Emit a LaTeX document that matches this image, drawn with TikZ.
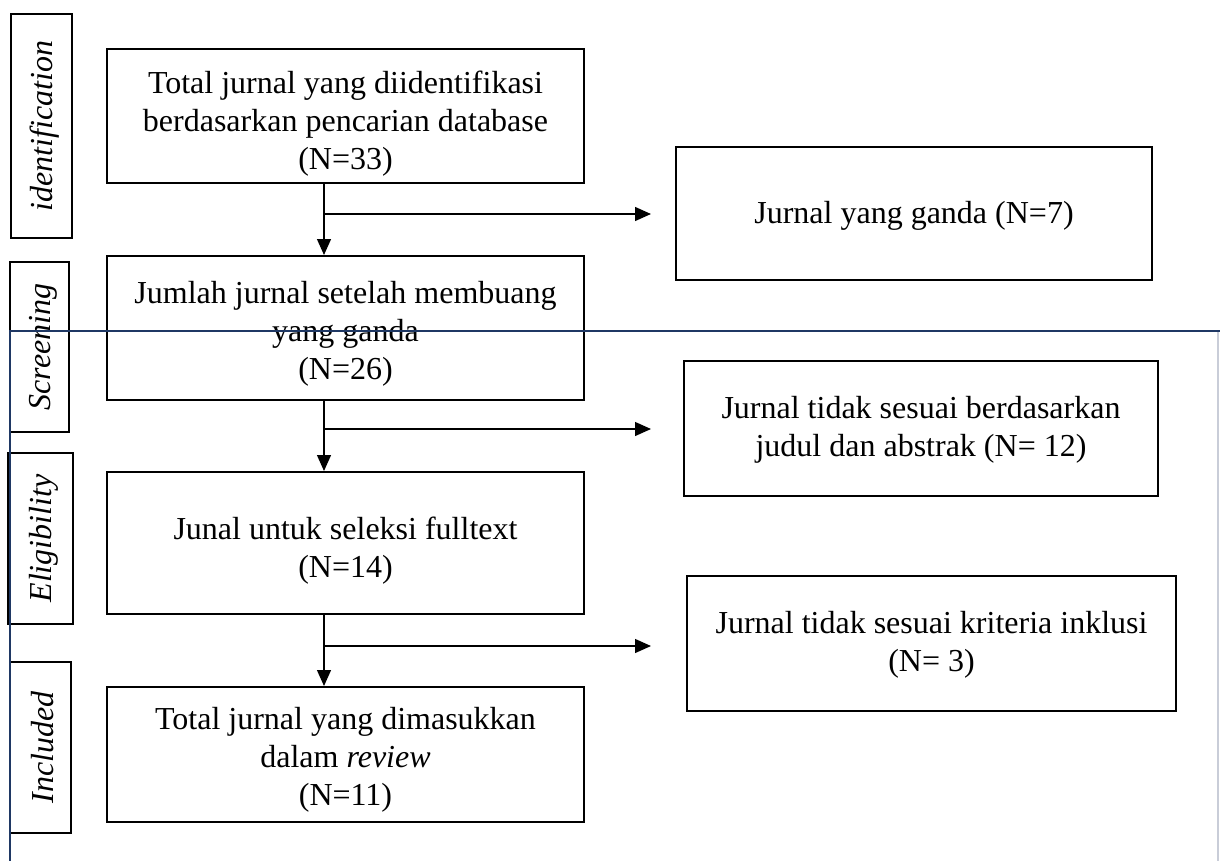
\documentclass[tikz,border=0pt]{standalone}
\usepackage{fontspec}
\setmainfont{Liberation Serif}
\usetikzlibrary{arrows.meta,calc}
\definecolor{navy}{HTML}{1F3864}
\definecolor{lightedge}{HTML}{C9CDD8}
\begin{document}
\begin{tikzpicture}[x=1pt,y=-1pt,
  box/.style={draw=black,line width=2pt,inner sep=0pt},
  txt/.style={inner sep=0pt,align=center,font=\fontsize{32}{38}\selectfont},
  sidetxt/.style={inner sep=0pt,rotate=90,font=\fontsize{32}{38}\selectfont\itshape},
  arr/.style={line width=1.3pt,-{Triangle[length=16pt,width=14pt]}},
  blueline/.style={draw=navy,line width=2pt},
  lightline/.style={draw=lightedge,line width=1.2pt}]
\useasboundingbox (0,0) rectangle (1220,861);
\fill[white] (0,0) rectangle (1220,861);

% side labels
\node[box,minimum width=61pt,minimum height=224pt] (S1) at (41.5,126) {};
\node[box,minimum width=59pt,minimum height=170pt] (S2) at (39.5,347) {};
\node[box,minimum width=65pt,minimum height=171pt] (S3) at (40.5,538.5) {};
\node[box,minimum width=61pt,minimum height=171pt] (S4) at (40.5,747.5) {};
\node[sidetxt] (S1t) at ($(S1.center)+(3,0)$) {identification};
\node[sidetxt] (S2t) at ($(S2.center)+(4,0)$) {Screening};
\node[sidetxt] (S3t) at ($(S3.center)+(3,0)$) {Eligibility};
\node[sidetxt] (S4t) at ($(S4.center)+(2,0)$) {Included};

% main boxes
\node[box,minimum width=477pt,minimum height=134pt] (A) at (345.5,116) {};
\node[box,minimum width=477pt,minimum height=144pt] (B) at (345.5,328) {};
\node[box,minimum width=477pt,minimum height=142pt] (C) at (345.5,543) {};
\node[box,minimum width=477pt,minimum height=135pt] (D) at (345.5,754.5) {};
\node[txt] (At) at ($(A.center)+(0,8)$)
  {Total jurnal yang diidentifikasi\\berdasarkan pencarian database\\(N=33)};
\node[txt] (Bt) at ($(B.center)+(0,6)$)
  {Jumlah jurnal setelah membuang\\yang ganda\\(N=26)};
\node[txt] (Ct) at ($(C.center)+(0,8)$)
  {Junal untuk seleksi fulltext\\(N=14)};
\node[txt] (Dt) at ($(D.center)+(0,5)$)
  {Total jurnal yang dimasukkan\\dalam \textit{review}\\(N=11)};

% right boxes
\node[box,minimum width=476pt,minimum height=133pt] (R1) at (914,213.5) {};
\node[box,minimum width=474pt,minimum height=135pt] (R2) at (921,428.5) {};
\node[box,minimum width=489pt,minimum height=135pt] (R3) at (931.5,643.5) {};
\node[txt] (R1t) at ($(R1.center)+(0,2)$) {Jurnal yang ganda (N=7)};
\node[txt] (R2t) at ($(R2.center)+(0,1)$)
  {Jurnal tidak sesuai berdasarkan\\judul dan abstrak (N= 12)};
\node[txt] (R3t) at ($(R3.center)+(0,1)$)
  {Jurnal tidak sesuai kriteria inklusi\\(N= 3)};

% connectors
\coordinate (v) at (324,0);
\coordinate (tip) at (651,0);
\coordinate (b1) at (0,214);
\coordinate (b2) at (0,429);
\coordinate (b3) at (0,646);
\draw[arr] (A.south -| v) -- (B.north -| v);
\draw[arr] (B.south -| v) -- (C.north -| v);
\draw[arr] (C.south -| v) -- (D.north -| v);
\draw[arr] (v |- b1) -- (tip |- b1);
\draw[arr] (v |- b2) -- (tip |- b2);
\draw[arr] (v |- b3) -- (tip |- b3);

% section lines
\coordinate (bl) at (10,861);
\coordinate (tl) at (10,331);
\coordinate (tr) at (1220,331);
\coordinate (rt) at (1218,332);
\coordinate (rb) at (1218,861);
\draw[lightline] (rt) -- (rb);
\draw[blueline] (bl) -- (tl) -- (tr);
\end{tikzpicture}
\end{document}
